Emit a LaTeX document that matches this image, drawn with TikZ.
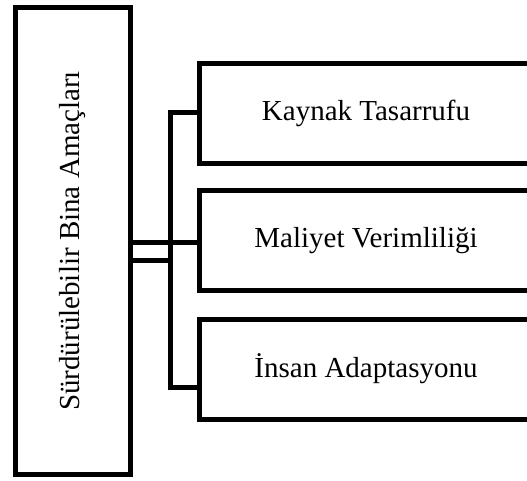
\documentclass[tikz,border=0pt]{standalone}
\usepackage{fontspec}
\setmainfont{Liberation Serif}
\begin{document}
\begin{tikzpicture}[x=1pt,y=-1pt,
  box/.style={draw=black, line width=5pt, inner sep=0pt, align=center,
    font=\fontsize{29}{35}\selectfont},
  link/.style={draw=black, line width=5pt, line cap=rect}]
\useasboundingbox (0,0) rectangle (527,481);
\clip (0,0) rectangle (527,481);
\node[box, minimum width=115.5pt, minimum height=467pt] (L) at (72.75,241)
  {\rotatebox{90}{Sürdürülebilir Bina Amaçları}};
\node[box, minimum width=334pt, minimum height=100.5pt] (B1) at (366,113.75) {Kaynak Tasarrufu};
\node[box, minimum width=334pt, minimum height=100pt] (B2) at (366,240.5) {Maliyet Verimliliği};
\node[box, minimum width=334pt, minimum height=100pt] (B3) at (366,369) {İnsan Adaptasyonu};
\coordinate (jt) at (170,112.5);
\coordinate (jb) at (170,387.5);
\coordinate (jm) at (170,260.5);
\coordinate (ya) at (0,242.5);
\path[link] (L.east |- ya) -- (B2.west |- ya);
\path[link] (L.east |- jm) -- (jm);
\path[link] (jt) -- (jb);
\path[link] (jt) -- (B1.west |- jt);
\path[link] (jb) -- (B3.west |- jb);
\end{tikzpicture}
\end{document}
